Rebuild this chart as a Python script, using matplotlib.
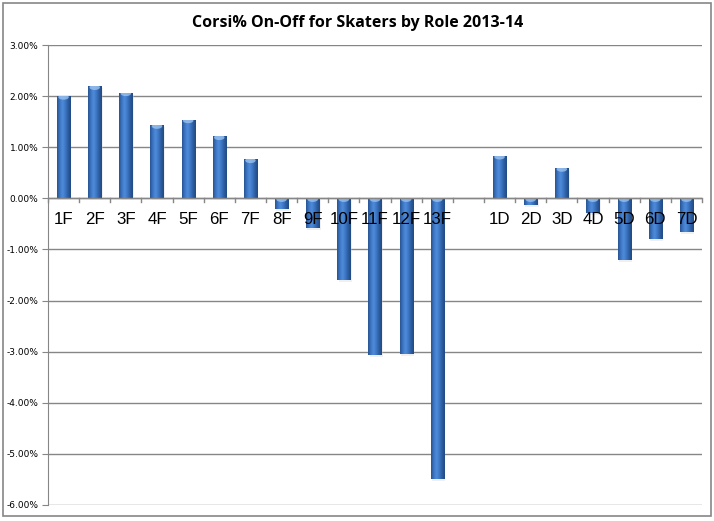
import numpy as np
import matplotlib
matplotlib.use("Agg")
import matplotlib.pyplot as plt
from matplotlib.colors import LinearSegmentedColormap
from matplotlib.patches import Rectangle, Ellipse

# data (percent), blank slot between forwards and defense
roles = ["1F", "2F", "3F", "4F", "5F", "6F", "7F", "8F", "9F", "10F", "11F", "12F", "13F",
         "", "1D", "2D", "3D", "4D", "5D", "6D", "7D"]
on_off = [2.00, 2.19, 2.07, 1.43, 1.54, 1.21, 0.76, -0.20, -0.58, -1.59, -3.07, -3.04, -5.50,
          None, 0.83, -0.13, 0.59, -0.29, -1.20, -0.80, -0.65]
yticks = [3, 2, 1, 0, -1, -2, -3, -4, -5, -6]

fig = plt.figure(figsize=(7.14, 5.21), dpi=100)
ax = fig.add_axes([48 / 714, 1 - 505 / 521, 654 / 714, 460 / 521])

n = len(roles)
ax.set_xlim(-0.5, n - 0.5)
ax.set_ylim(-6, 3)

# gridlines
for y in yticks:
    ax.axhline(y, color="#868686", lw=1, zorder=1)

# cylinder-ish gradient for the bars
cmap = LinearSegmentedColormap.from_list(
    "bar", ["#26528e", "#3c76c4", "#4f8cda", "#3d77c5", "#2c5d9f", "#214a82"])
grad = np.linspace(0, 1, 64).reshape(1, -1)
w = 0.42
for i, v in enumerate(on_off):
    if v is None:
        continue
    lo, hi = min(0, v), max(0, v)
    # soft shadow under the bar end
    ax.add_patch(Rectangle((i - w / 2 + 0.04, lo - 0.04), w, hi - lo,
                           facecolor="#d4d4d4", edgecolor="none", alpha=0.35, zorder=2))
    rect = Rectangle((i - w / 2, lo), w, hi - lo, facecolor="none", edgecolor="none", zorder=3)
    ax.add_patch(rect)
    im = ax.imshow(grad, cmap=cmap, aspect="auto", extent=(i - w / 2, i + w / 2, lo, hi),
                   zorder=3, interpolation="bicubic")
    im.set_clip_path(rect)
    cap = Ellipse((i, hi - 0.02), w * 0.8, 0.1, facecolor="#9cc2ee", edgecolor="none",
                  alpha=0.8, zorder=4)
    ax.add_patch(cap)
    cap.set_clip_path(rect)

# category labels sit just under the zero line
for i, lab in enumerate(roles):
    ax.annotate(lab, (i, 0), xytext=(0, -15), textcoords="offset points",
                ha="center", va="center", fontsize=12.2, family="Liberation Sans",
                color="black", zorder=6)

# zero axis with tick marks between categories
ax.axhline(0, color="#868686", lw=1, zorder=5)
for k in range(n + 1):
    ax.plot([k - 0.5, k - 0.5], [0, -0.08], color="#868686", lw=1, zorder=5,
            clip_on=False)

ax.set_xticks([])
ax.set_yticks(yticks)
ax.set_yticklabels([f"{t:.2f}%" for t in yticks], fontsize=6.5, family="DejaVu Sans")
ax.tick_params(axis="y", length=4, color="#868686", pad=3)
for s in ["top", "right", "bottom"]:
    ax.spines[s].set_visible(False)
ax.spines["left"].set_color("#868686")

fig.text(358 / 714, 1 - 23 / 521, "Corsi% On-Off for Skaters by Role 2013-14",
         ha="center", va="center", fontsize=11.5, fontweight="bold", family="Open Sans")

# chart frame
fig.add_artist(Rectangle((3 / 714, 1 - 516 / 521), 708 / 714, 513 / 521,
                         transform=fig.transFigure, facecolor="none",
                         edgecolor="#868686", lw=1.2))

fig.savefig("out.png", dpi=100)
